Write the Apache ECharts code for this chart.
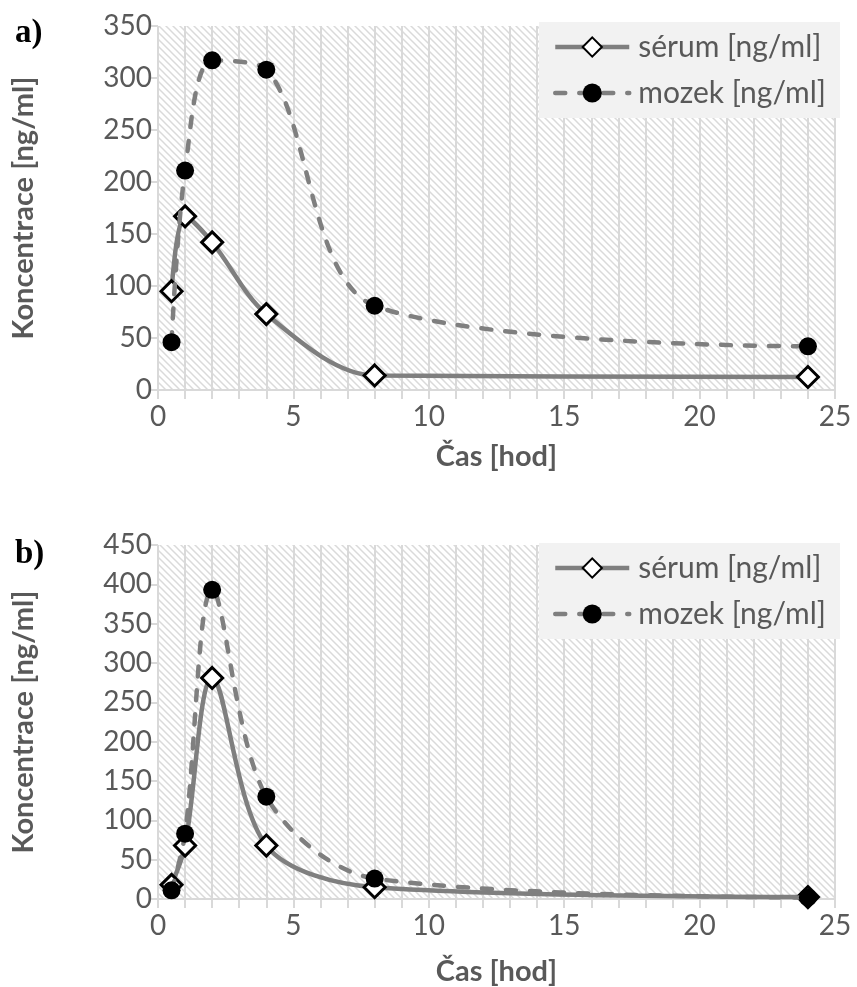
<!DOCTYPE html>
<html>
<head>
<meta charset="utf-8">
<script src="https://cdn.jsdelivr.net/npm/echarts@6/dist/echarts.min.js"></script>
<style>
html,body{margin:0;padding:0;background:#fff;}
#c{width:857px;height:987px;}
</style>
</head>
<body>
<div id="c"></div>
<script>
// ---- data ----
var times = [0.5, 1, 2, 4, 8, 24];
var serumA = [95, 167, 142, 73, 14, 12.5];
var mozekA = [46, 211, 317, 308, 81, 42];
var serumB = [18, 68, 281, 68, 15, 2.5];
var mozekB = [11, 83, 393, 130, 26, 2];
var seriesNames = ['sérum [ng/ml]', 'mozek [ng/ml]'];
var xTitle = 'Čas [hod]';
var yTitle = 'Koncentrace [ng/ml]';
var panelLabels = ['a)', 'b)'];
var yMaxA = 350, yMaxB = 450;

function pair(xs, ys) { return xs.map(function (x, i) { return [x, ys[i]]; }); }

// hatch pattern
var pc = document.createElement('canvas');
pc.width = 7; pc.height = 7;
var g = pc.getContext('2d');
g.fillStyle = '#ffffff'; g.fillRect(0, 0, 7, 7);
g.strokeStyle = '#dadada'; g.lineWidth = 1.5;
for (var k = -1; k <= 1; k++) {
  g.beginPath(); g.moveTo(k * 7 - 1, -1); g.lineTo(k * 7 + 8, 8); g.stroke();
}
var hatch = { image: pc, repeat: 'repeat' };

var FONT = 'Lato';
var TXT = '#595959';
var GRIDC = '#d9d9d9';
var SMOOTH = 0.32;

function xAxisCfg(gi, gap) {
  return {
    type: 'value', gridIndex: gi, min: 0, max: 25, interval: 1,
    name: xTitle, nameLocation: 'middle', nameGap: gap,
    nameTextStyle: { fontFamily: FONT, fontWeight: 'bold', fontSize: 29, color: TXT },
    axisLine: { show: true, lineStyle: { color: GRIDC, width: 2 } },
    axisTick: { show: true, length: 9, lineStyle: { color: GRIDC, width: 2 } },
    splitLine: { show: true, lineStyle: { color: GRIDC, width: 2 } },
    axisLabel: {
      fontFamily: FONT, fontSize: 28, color: TXT, margin: 13,
      formatter: function (v) { return v % 5 === 0 ? String(v) : ''; }
    }
  };
}
function yAxisCfg(gi, max) {
  return {
    type: 'value', gridIndex: gi, min: 0, max: max, interval: 50,
    name: yTitle, nameLocation: 'middle', nameGap: 120, nameRotate: 90,
    nameTextStyle: { fontFamily: FONT, fontWeight: 'bold', fontSize: 29, color: TXT },
    axisLine: { show: false },
    axisTick: { show: true, length: 9, lineStyle: { color: GRIDC, width: 2 } },
    splitLine: { show: false },
    axisLabel: { fontFamily: FONT, fontSize: 28, color: TXT, margin: 6 }
  };
}
function serumSeries(gi, ys) {
  return {
    name: seriesNames[0], type: 'line', xAxisIndex: gi, yAxisIndex: gi,
    data: pair(times, ys), smooth: SMOOTH,
    symbol: 'diamond', symbolSize: 21,
    itemStyle: { color: '#ffffff', borderColor: '#000000', borderWidth: 3 },
    lineStyle: { color: '#7f7f7f', width: 4.5 },
    z: 2
  };
}
function mozekSeries(gi, ys) {
  return {
    name: seriesNames[1], type: 'line', xAxisIndex: gi, yAxisIndex: gi,
    data: pair(times, ys), smooth: SMOOTH,
    symbol: 'circle', symbolSize: 18,
    itemStyle: { color: '#000000', borderWidth: 0 },
    lineStyle: { color: '#7f7f7f', width: 4.5, type: [10, 14], cap: 'round' },
    z: 3
  };
}
function legendCfg(top) {
  return {
    data: seriesNames, orient: 'vertical', left: 539, top: top,
    backgroundColor: '#f2f2f2', padding: [10, 14, 10, 14],
    itemWidth: 74, itemHeight: 24, itemGap: 16,
    lineStyle: { width: 4.5 },
    textStyle: { fontFamily: FONT, fontSize: 30, color: TXT, padding: [0, 0, 0, 4] }
  };
}

var chart = echarts.init(document.getElementById('c'), null, { renderer: 'canvas' });
chart.setOption({
  animation: false,
  backgroundColor: '#ffffff',
  grid: [
    { left: 158, right: 22, top: 26, height: 364, show: true, backgroundColor: hatch, borderWidth: 0 },
    { left: 158, right: 22, top: 545, height: 357, show: true, backgroundColor: hatch, borderWidth: 0 }
  ],
  xAxis: [xAxisCfg(0, 52), xAxisCfg(1, 58)],
  yAxis: [yAxisCfg(0, yMaxA), yAxisCfg(1, yMaxB)],
  legend: [legendCfg(22), legendCfg(543)],
  title: [
    { text: panelLabels[0], left: 10, top: 12, textStyle: { fontFamily: 'Liberation Serif', fontWeight: 'bold', fontSize: 33, color: '#000' } },
    { text: panelLabels[1], left: 10, top: 533, textStyle: { fontFamily: 'Liberation Serif', fontWeight: 'bold', fontSize: 33, color: '#000' } }
  ],
  series: [serumSeries(0, serumA), mozekSeries(0, mozekA), serumSeries(1, serumB), mozekSeries(1, mozekB)]
});
</script>
</body>
</html>
